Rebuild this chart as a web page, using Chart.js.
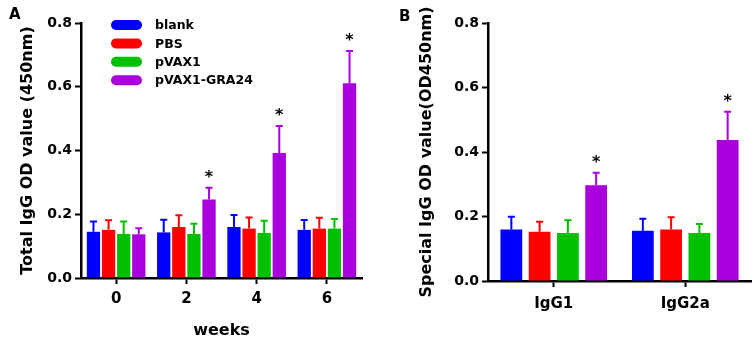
<!DOCTYPE html>
<html>
<head>
<meta charset="utf-8">
<script src="https://cdn.jsdelivr.net/npm/chart.js@4/dist/chart.umd.min.js"></script>
<style>
  html, body { margin: 0; padding: 0; background: #fff; }
  #wrap { position: relative; width: 754px; height: 340px; overflow: hidden; }
  canvas { position: absolute; top: 0; }
  .panel { position: absolute; font-family: "DejaVu Sans", sans-serif; font-weight: bold; font-size: 15px; color: #000; line-height: 1; }
</style>
</head>
<body>
<div id="wrap">
  <canvas id="cA" width="377" height="340" style="left:0"></canvas>
  <canvas id="cB" width="377" height="340" style="left:377px"></canvas>
  <div class="panel" style="left:9px; top:7px;">A</div>
  <div class="panel" style="left:399px; top:9px;">B</div>
</div>
<script>
// ---- data ----
const groups = ['blank', 'PBS', 'pVAX1', 'pVAX1-GRA24'];
const weeks = ['0', '2', '4', '6'];
const isotypes = ['IgG1', 'IgG2a'];
const yTickLabels = ['0.0', '0.2', '0.4', '0.6', '0.8'];

// Panel A: total IgG (mean, error)
const totalBlank = [0.145, 0.143, 0.160, 0.151];
const totalBlankErr = [0.032, 0.040, 0.038, 0.031];
const totalPBS = [0.151, 0.160, 0.155, 0.155];
const totalPBSErr = [0.030, 0.037, 0.035, 0.034];
const totalPVAX1 = [0.138, 0.138, 0.141, 0.155];
const totalPVAX1Err = [0.039, 0.032, 0.039, 0.030];
const totalGRA24 = [0.137, 0.246, 0.392, 0.611];
const totalGRA24Err = [0.019, 0.037, 0.085, 0.101];
const totalGRA24Star = [false, true, true, true];

// Panel B: IgG subclasses (mean, error)
const subBlank = [0.160, 0.156];
const subBlankErr = [0.039, 0.037];
const subPBS = [0.153, 0.160];
const subPBSErr = [0.031, 0.038];
const subPVAX1 = [0.149, 0.149];
const subPVAX1Err = [0.039, 0.028];
const subGRA24 = [0.297, 0.437];
const subGRA24Err = [0.039, 0.088];
const subGRA24Star = [true, true];

// ---- styling ----
const colors = ['#0000FF', '#FF0000', '#00C000', '#AA00DD'];
const FONT = 'DejaVu Sans';
const noStar = n => new Array(n).fill(false);

const errorBarPlugin = {
  id: 'errorBars',
  afterDatasetsDraw(chart) {
    const ctx = chart.ctx;
    const yScale = chart.scales.y;
    chart.data.datasets.forEach((ds, i) => {
      const meta = chart.getDatasetMeta(i);
      meta.data.forEach((bar, j) => {
        const v = ds.data[j], e = ds.err[j];
        const yTop = yScale.getPixelForValue(v + e);
        ctx.save();
        ctx.strokeStyle = ds.backgroundColor;
        ctx.lineWidth = 2;
        ctx.beginPath();
        ctx.moveTo(bar.x, bar.y);
        ctx.lineTo(bar.x, yTop);
        ctx.moveTo(bar.x - 3.5, yTop);
        ctx.lineTo(bar.x + 3.5, yTop);
        ctx.stroke();
        if (ds.star[j]) {
          ctx.fillStyle = '#000';
          ctx.font = 'bold 16px "' + FONT + '"';
          ctx.textAlign = 'center';
          ctx.textBaseline = 'alphabetic';
          ctx.fillText('*', bar.x, yTop - 6);
        }
        ctx.restore();
      });
    });
  }
};

const legendPlugin = {
  id: 'innerLegend',
  afterDraw(chart, args, opts) {
    if (!opts.show) return;
    const ctx = chart.ctx;
    chart.data.datasets.forEach((ds, i) => {
      const cy = 25 + i * 18.4;
      ctx.save();
      ctx.fillStyle = ds.backgroundColor;
      ctx.beginPath();
      ctx.roundRect(111, cy - 5, 31, 10, 5);
      ctx.fill();
      ctx.fillStyle = '#000';
      ctx.font = 'bold 12.5px "' + FONT + '"';
      ctx.textAlign = 'left';
      ctx.textBaseline = 'middle';
      ctx.fillText(ds.label, 155, cy + 1);
      ctx.restore();
    });
  }
};

function axisCommon() {
  return {
    grid: { display: true, drawOnChartArea: false, offset: false, tickLength: 6, tickWidth: 2, color: '#000' },
    border: { display: true, width: 2.5, color: '#000' }
  };
}

function makeChart(canvasId, labels, series, errs, stars, opts) {
  const datasets = groups.map((g, i) => ({
    label: g,
    data: series[i],
    err: errs[i],
    star: stars[i],
    backgroundColor: colors[i],
    borderWidth: 0,
    categoryPercentage: opts.catPct,
    barPercentage: opts.barPct
  }));
  const x = axisCommon();
  x.ticks = { color: '#000', font: { family: FONT, weight: 'bold', size: 15 }, padding: opts.xTickPad, maxRotation: 0 };
  x.title = { display: !!opts.xTitle, text: opts.xTitle || '', color: '#000',
              font: { family: FONT, weight: 'bold', size: 16 }, padding: { top: 0, bottom: 0 } };
  x.afterFit = s => { s.height = opts.xHeight; };
  const y = axisCommon();
  y.min = 0; y.max = 0.8;
  y.ticks = { stepSize: 0.2, color: '#000', font: { family: FONT, weight: 'bold', size: 14 }, padding: 3,
              callback: (v, i) => yTickLabels[i] };
  y.title = { display: true, text: opts.yTitle, color: '#000',
              font: { family: FONT, weight: 'bold', size: 16 }, padding: { top: opts.yTitlePad, bottom: 0 } };
  y.afterFit = s => { s.width = opts.yWidth; };
  return new Chart(document.getElementById(canvasId), {
    type: 'bar',
    data: { labels, datasets },
    options: {
      responsive: false, animation: false, devicePixelRatio: 1,
      layout: { padding: { top: 23, right: opts.rightPad, left: 0, bottom: 0 } },
      plugins: { legend: { display: false }, tooltip: { enabled: false }, innerLegend: { show: opts.legend } },
      scales: { x, y }
    },
    plugins: [errorBarPlugin, legendPlugin]
  });
}

makeChart('cA', weeks,
  [totalBlank, totalPBS, totalPVAX1, totalGRA24],
  [totalBlankErr, totalPBSErr, totalPVAX1Err, totalGRA24Err],
  [noStar(4), noStar(4), noStar(4), totalGRA24Star],
  { catPct: 0.86, barPct: 0.88, xTitle: 'weeks', xHeight: 62, yWidth: 81, rightPad: 15, xTickPad: 6,
    yTitle: 'Total IgG OD value (450nm)', yTitlePad: 18, legend: true });

makeChart('cB', isotypes,
  [subBlank, subPBS, subPVAX1, subGRA24],
  [subBlankErr, subPBSErr, subPVAX1Err, subGRA24Err],
  [noStar(2), noStar(2), noStar(2), subGRA24Star],
  { catPct: 0.86, barPct: 0.77, xTitle: '', xHeight: 59, yWidth: 111, rightPad: 3, xTickPad: 8,
    yTitle: 'Special IgG OD value(OD450nm)', yTitlePad: 40, legend: false });
</script>
</body>
</html>
